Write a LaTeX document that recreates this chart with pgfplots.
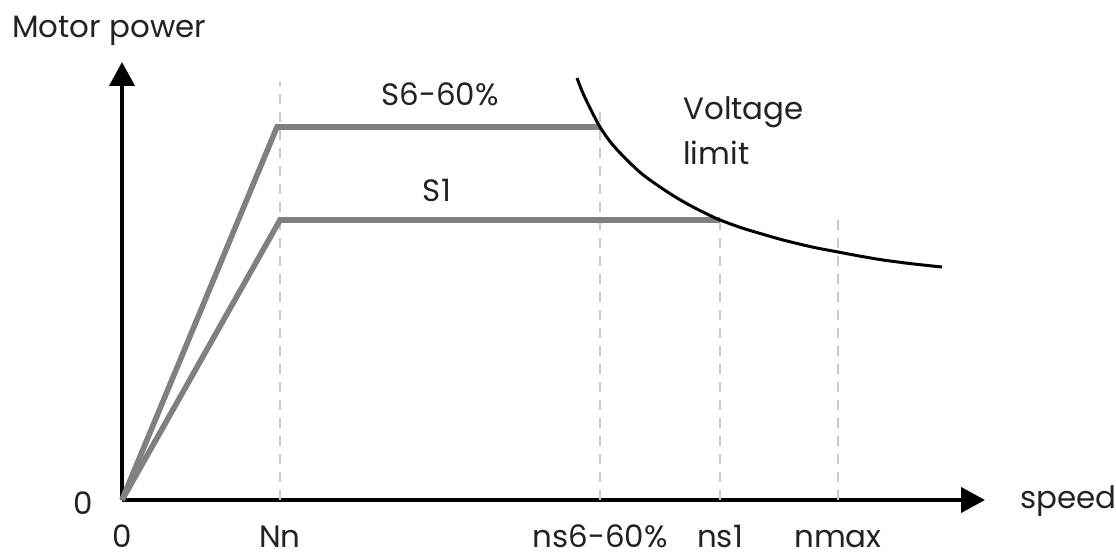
\documentclass[border=0pt]{standalone}
\usepackage{fontspec}
\setmainfont{Poppins}
\usepackage{pgfplots}
\pgfplotsset{compat=1.18}
\usetikzlibrary{arrows.meta}
\definecolor{curvegray}{HTML}{808080}
\definecolor{dashgray}{HTML}{C8C8C8}
\definecolor{txt}{HTML}{222222}

\begin{document}
\begin{tikzpicture}[font=\fontsize{15.5}{18}\selectfont, text=txt]
\begin{axis}[
  x=0.5bp, y=0.5bp,
  xmin=0, xmax=863, ymin=0, ymax=438,
  axis lines=left,
  axis line style={line width=2bp, black, -{Triangle[length=12bp, width=12.5bp]}},
  enlargelimits=false,
  clip=false,
  xtick={0,158,478,598,716},
  xticklabels={0, Nn, ns6-60\%, ns1, nmax},
  ytick={0}, yticklabels={0},
  major tick length=0pt,
  xticklabel style={anchor=base, inner sep=0pt, yshift=-24bp, text=txt},
  yticklabel style={anchor=base, inner sep=0pt, xshift=-19.5bp, yshift=-7.5bp, text=txt},
]

% dashed helper lines
\addplot[dashgray, line width=0.6bp, dash pattern=on 5bp off 4bp] coordinates {(158,0) (158,418)};
\addplot[dashgray, line width=0.6bp, dash pattern=on 5bp off 4bp] coordinates {(478,0) (478,393)};
\addplot[dashgray, line width=0.6bp, dash pattern=on 5bp off 4bp] coordinates {(598,0) (598,277)};
\addplot[dashgray, line width=0.6bp, dash pattern=on 5bp off 4bp] coordinates {(716,0) (716,288)};

% S6-60%
\addplot[curvegray, line width=2.8bp, line join=miter] coordinates {(0,0) (155,373) (478,373)};
% S1
\addplot[curvegray, line width=2.8bp, line join=miter] coordinates {(0,0) (158,280) (598,280)};

% voltage limit
\addplot[black, line width=1.5bp, smooth] coordinates {
  (455,422) (460,409) (467,394) (478,373) (490,356) (505,340) (520,326)
  (538,313) (555,302) (571,293) (585,286) (598,280) (620,272) (640,266)
  (661,260) (690,253) (716,248) (740,243.5) (761,240) (790,236.2) (820,233)
};

\node[anchor=base west, inner sep=0pt] at (axis cs:-110,462) {Motor power};
\node[anchor=base west, inner sep=0pt] at (axis cs:898,-9) {speed};
\node[anchor=base, inner sep=0pt] at (axis cs:318,394) {S6-60\%};
\node[anchor=base, inner sep=0pt] at (axis cs:315,298) {S1};
\node[anchor=base west, inner sep=0pt] at (axis cs:561,380) {Voltage};
\node[anchor=base west, inner sep=0pt] at (axis cs:561,335) {limit};

\coordinate (bl) at (axis cs:-122,-58);
\coordinate (tr) at (axis cs:994,500);
\end{axis}
\pgfresetboundingbox
\path[use as bounding box] (bl) rectangle (tr);
\end{tikzpicture}
\end{document}
